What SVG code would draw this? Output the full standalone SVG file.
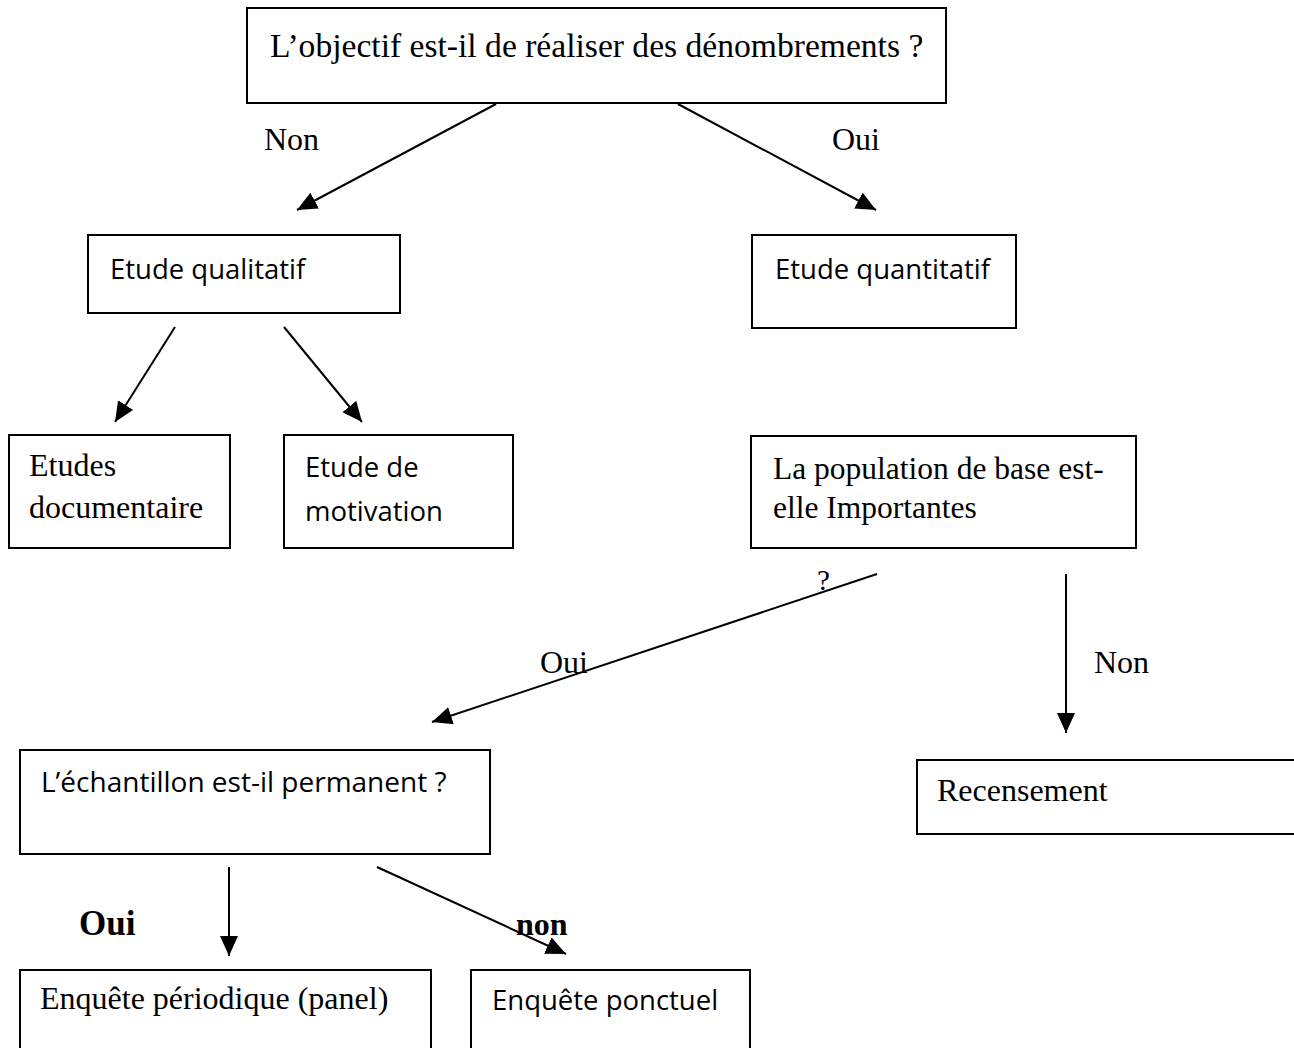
<svg xmlns="http://www.w3.org/2000/svg" width="1294" height="1048" viewBox="0 0 1294 1048">
<style>
.box{fill:#fff;stroke:#000;stroke-width:2}
.serif{font-family:"Liberation Serif","Times New Roman",serif;font-size:32px;fill:#000}
.sans{font-family:"Open Sans","Noto Sans",sans-serif;font-size:27.5px;fill:#000}
.bold{font-weight:bold}
.conn{stroke:#000;stroke-width:2;fill:none;marker-end:url(#ah)}
</style>
<defs>
<marker id="ah" markerUnits="userSpaceOnUse" markerWidth="22" markerHeight="18" refX="20" refY="9" orient="auto">
<path d="M0,0 L20,9 L0,18 Z" fill="#000"/>
</marker>
</defs>
<rect width="1294" height="1048" fill="#fff"/>
<g id="connectors">
<line class="conn" x1="496" y1="104" x2="297" y2="210"/>
<line class="conn" x1="678" y1="104" x2="876" y2="210"/>
<line class="conn" x1="175" y1="327" x2="115" y2="422"/>
<line class="conn" x1="284" y1="327" x2="362" y2="422"/>
<line class="conn" x1="877" y1="574" x2="432" y2="722"/>
<line class="conn" x1="1066" y1="574" x2="1066" y2="733"/>
<line class="conn" x1="229" y1="867" x2="229" y2="956"/>
<line class="conn" x1="377" y1="867" x2="566" y2="954"/>
</g>
<g id="labels">
<text class="serif" x="264" y="150">Non</text>
<text class="serif" x="832" y="150">Oui</text>
<text class="serif" x="817" y="590" style="font-size:29px">?</text>
<text class="serif" x="540" y="673">Oui</text>
<text class="serif" x="1094" y="673">Non</text>
<text class="serif bold" x="79" y="935" style="font-size:35px">Oui</text>
<text class="serif bold" x="516" y="935">non</text>
</g>
<g id="n-objectif">
<rect class="box" x="247" y="8" width="699" height="95"/>
<text class="serif" x="270" y="57" style="font-size:33.6px">L’objectif est-il de réaliser des dénombrements ?</text>
</g>
<g id="n-qualitatif">
<rect class="box" x="88" y="235" width="312" height="78"/>
<text class="sans" x="110" y="279">Etude qualitatif</text>
</g>
<g id="n-quantitatif">
<rect class="box" x="752" y="235" width="264" height="93"/>
<text class="sans" x="775" y="279">Etude quantitatif</text>
</g>
<g id="n-documentaire">
<rect class="box" x="9" y="435" width="221" height="113"/>
<text class="serif" x="29" y="476">Etudes</text>
<text class="serif" x="29" y="518">documentaire</text>
</g>
<g id="n-motivation">
<rect class="box" x="284" y="435" width="229" height="113"/>
<text class="sans" x="305" y="477">Etude de</text>
<text class="sans" x="305" y="521">motivation</text>
</g>
<g id="n-population">
<rect class="box" x="751" y="436" width="385" height="112"/>
<text class="serif" x="773" y="479" style="font-size:31.5px">La population de base est-</text>
<text class="serif" x="773" y="518" style="font-size:31.5px">elle Importantes</text>
</g>
<g id="n-echantillon">
<rect class="box" x="20" y="750" width="470" height="104"/>
<text class="sans" x="41" y="792" style="font-size:28px">L’échantillon est-il permanent ?</text>
</g>
<g id="n-recensement">
<rect class="box" x="917" y="760" width="390" height="74"/>
<text class="serif" x="937" y="801">Recensement</text>
</g>
<g id="n-periodique">
<rect class="box" x="20" y="970" width="411" height="90"/>
<text class="serif" x="40" y="1009">Enquête périodique (panel)</text>
</g>
<g id="n-ponctuel">
<rect class="box" x="471" y="970" width="279" height="90"/>
<text class="sans" x="492" y="1010">Enquête ponctuel</text>
</g>
</svg>
